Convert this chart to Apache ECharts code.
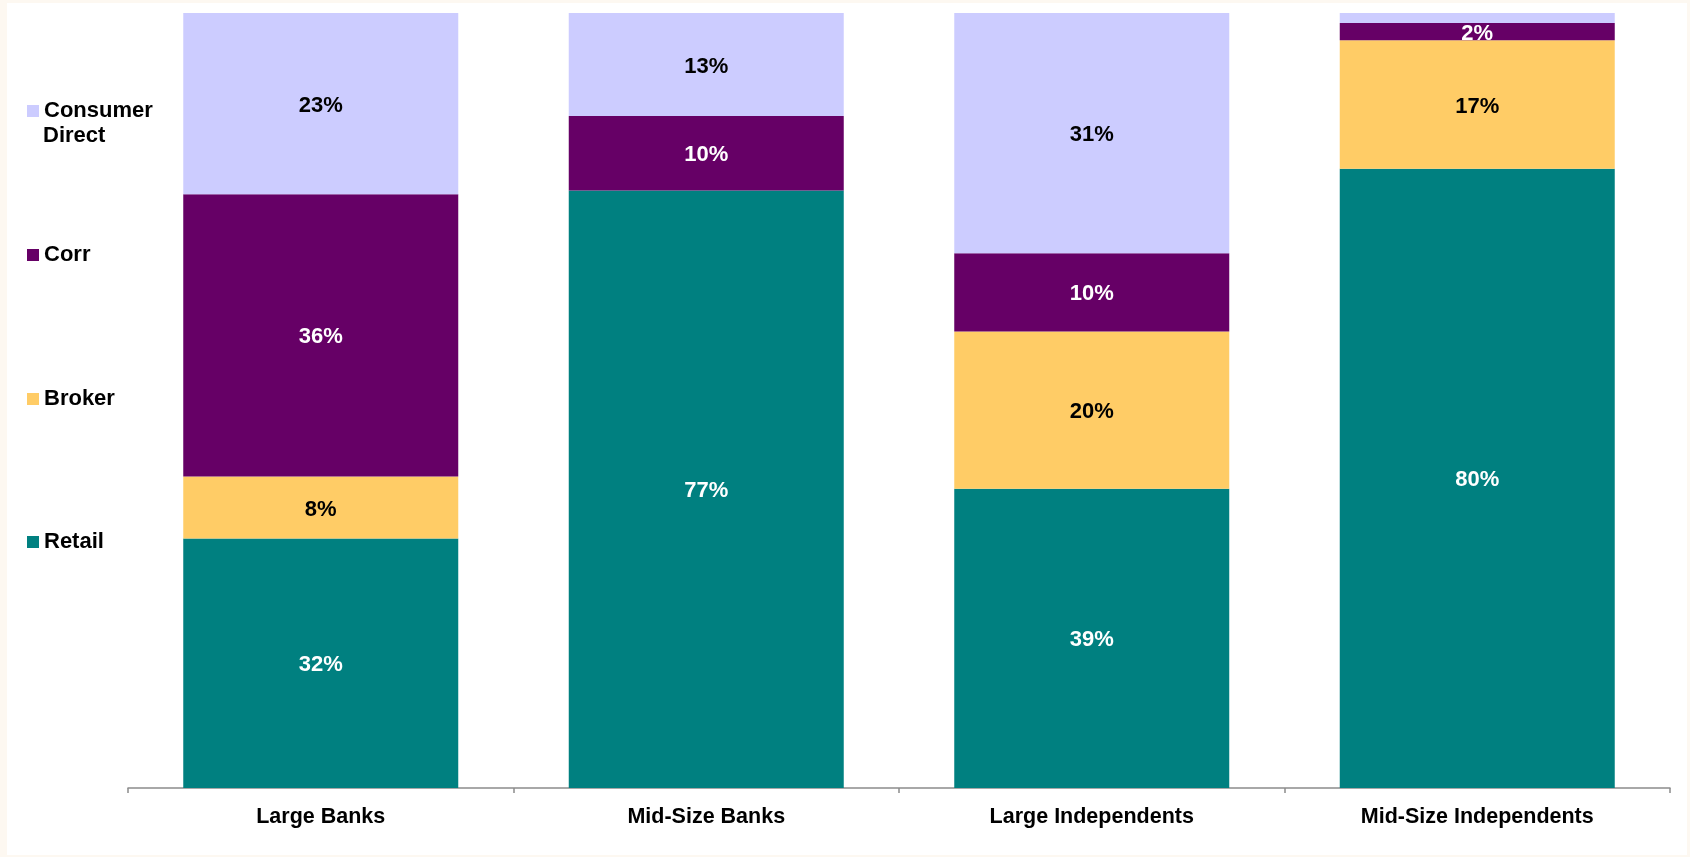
<!DOCTYPE html>
<html>
<head>
<meta charset="utf-8">
<script src="https://cdn.jsdelivr.net/npm/echarts@6/dist/echarts.min.js"></script>
<style>
  html, body { margin: 0; padding: 0; width: 1690px; height: 857px; background: #FDF8F1; overflow: hidden; }
  #chart { position: absolute; left: 7px; top: 3px; width: 1680px; height: 852px; background: #ffffff; }
</style>
</head>
<body>
<div id="chart"></div>
<script>
const categories = ['Large Banks', 'Mid-Size Banks', 'Large Independents', 'Mid-Size Independents'];
const retail = [32.2, 77.1, 38.6, 79.9];
const broker = [8.0, null, 20.3, 16.6];
const corr = [36.4, 9.6, 10.1, 2.2];
const consumerDirect = [23.4, 13.3, 31.0, 1.3];

const FONT = '"Liberation Sans", Arial, sans-serif';
const colors = { retail: '#008080', broker: '#FFCC66', corr: '#660066', consumer: '#CCCCFF' };

function labelCfg(color) {
  return {
    show: true,
    position: 'inside',
    offset: [0, 2],
    color: color,
    fontFamily: FONT,
    fontWeight: 'bold',
    fontSize: 22,
    formatter: function (p) {
      if (p.value == null || p.value < 1.5) return '';
      return Math.round(p.value) + '%';
    }
  };
}

function mkSeries(name, data, color, lblColor) {
  return {
    name: name,
    type: 'bar',
    stack: 'total',
    barWidth: 275,
    data: data,
    itemStyle: { color: color },
    label: labelCfg(lblColor),
    emphasis: { disabled: true }
  };
}

const legendText = { fontFamily: FONT, fontWeight: 'bold', fontSize: 22, color: '#000', lineHeight: 24 };
function mkLegend(name, top, extra) {
  return Object.assign({
    data: [name],
    orient: 'vertical',
    left: 20,
    top: top,
    padding: 0,
    icon: 'rect',
    itemWidth: 12,
    itemHeight: 12,
    itemGap: 0,
    selectedMode: false,
    textStyle: Object.assign({}, legendText)
  }, extra || {});
}

const chart = echarts.init(document.getElementById('chart'), null, { renderer: 'canvas' });
chart.setOption({
  backgroundColor: '#ffffff',
  animation: false,
  legend: [
    mkLegend('Consumer Direct', 96, {
      formatter: function () { return 'Consumer'; }
    }),
    mkLegend('Corr', 240),
    mkLegend('Broker', 384),
    mkLegend('Retail', 527)
  ],
  graphic: [{
    type: 'text',
    left: 36,
    top: 122,
    silent: true,
    style: {
      text: 'Direct',
      fill: '#000',
      font: 'bold 22px "Liberation Sans", Arial, sans-serif'
    }
  }],
  grid: { left: 121, right: 17, top: 10, bottom: 67 },
  xAxis: {
    type: 'category',
    data: categories,
    axisLine: { show: true, lineStyle: { color: '#8c8c8c', width: 1.5 } },
    axisTick: { show: true, length: 5, lineStyle: { color: '#8c8c8c', width: 1.5 } },
    axisLabel: { color: '#000', fontFamily: FONT, fontWeight: 'bold', fontSize: 21.5, margin: 18 }
  },
  yAxis: {
    type: 'value',
    min: 0,
    max: 100,
    show: false,
    splitLine: { show: false }
  },
  series: [
    mkSeries('Retail', retail, colors.retail, '#ffffff'),
    mkSeries('Broker', broker, colors.broker, '#000000'),
    mkSeries('Corr', corr, colors.corr, '#ffffff'),
    mkSeries('Consumer Direct', consumerDirect, colors.consumer, '#000000')
  ]
});
</script>
</body>
</html>
